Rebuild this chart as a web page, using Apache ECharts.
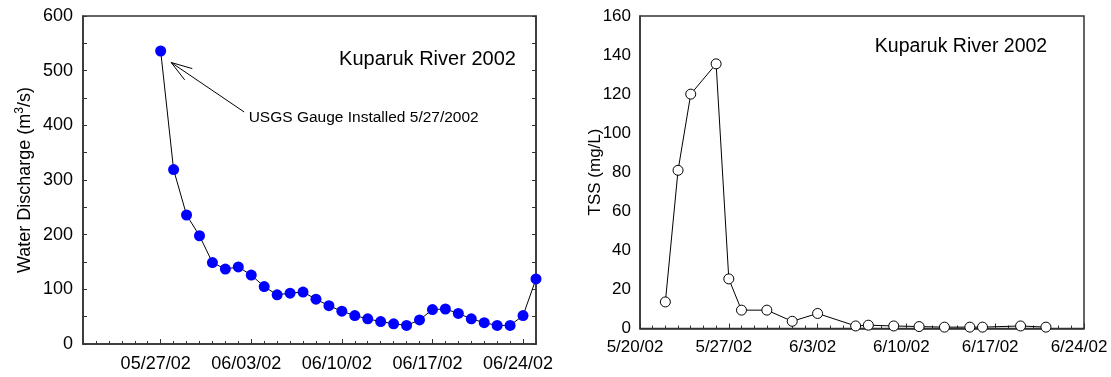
<!DOCTYPE html>
<html>
<head>
<meta charset="utf-8">
<script src="https://cdn.jsdelivr.net/npm/echarts@6/dist/echarts.min.js"></script>
<style>
  html, body { margin: 0; padding: 0; background: #fff; }
  #chart { width: 1111px; height: 377px; }
</style>
</head>
<body>
<div id="chart"></div>
<script>
const FONT = "'Liberation Sans', Arial, Helvetica, sans-serif";

// Daily water discharge at the Kuparuk River gauge (m^3/s)
const dischargeDates = [
  '2002-05-27', '2002-05-28', '2002-05-29', '2002-05-30', '2002-05-31',
  '2002-06-01', '2002-06-02', '2002-06-03', '2002-06-04', '2002-06-05',
  '2002-06-06', '2002-06-07', '2002-06-08', '2002-06-09', '2002-06-10',
  '2002-06-11', '2002-06-12', '2002-06-13', '2002-06-14', '2002-06-15',
  '2002-06-16', '2002-06-17', '2002-06-18', '2002-06-19', '2002-06-20',
  '2002-06-21', '2002-06-22', '2002-06-23', '2002-06-24', '2002-06-25'
];
const dischargeValues = [
  536, 319, 236, 198, 149,
  137, 141, 126, 105, 90,
  93, 95, 82, 70, 60,
  52, 46, 41, 37, 34,
  44, 63, 64, 56, 46,
  39, 34, 34, 52, 119
];

// Total suspended solids samples (mg/L)
const tssDates = [
  '2002-05-22', '2002-05-23', '2002-05-24', '2002-05-26', '2002-05-27',
  '2002-05-28', '2002-05-30', '2002-06-01', '2002-06-03', '2002-06-06',
  '2002-06-07', '2002-06-09', '2002-06-11', '2002-06-13', '2002-06-15',
  '2002-06-16', '2002-06-19', '2002-06-21'
];
const tssValues = [
  13.6, 81, 120, 135.5, 25.4,
  9.4, 9.4, 3.7, 7.7, 1.3,
  1.7, 1.3, 1.0, 0.7, 0.7,
  0.7, 1.3, 0.7
];

// Axis extents and labelled (weekly) ticks
const dischargeAxisRange = ['2002-05-21', '2002-06-25'];
const dischargeTickDates = ['2002-05-27', '2002-06-03', '2002-06-10', '2002-06-17', '2002-06-24'];
const tssAxisRange = ['2002-05-20', '2002-06-24'];
const tssTickDates = ['2002-05-20', '2002-05-27', '2002-06-03', '2002-06-10', '2002-06-17', '2002-06-24'];

const titleText = 'Kuparuk River 2002';
const gaugeNote = 'USGS Gauge Installed 5/27/2002';

const DAY = 86400000;
const ORIGIN = Date.UTC(2002, 4, 20);
function dayNum(s) {
  const [y, m, d] = s.split('-').map(Number);
  return Math.round((Date.UTC(y, m - 1, d) - ORIGIN) / DAY);
}
function dayLabel(n, padded) {
  const dt = new Date(ORIGIN + n * DAY);
  const m = dt.getUTCMonth() + 1, d = dt.getUTCDate();
  const y = String(dt.getUTCFullYear() % 100).padStart(2, '0');
  if (padded) return String(m).padStart(2, '0') + '/' + String(d).padStart(2, '0') + '/' + y;
  return m + '/' + d + '/' + y;
}

const AXIS_COLOR = '#333';
const AXIS_W = 1.5;

function dayAxes(gridIndex, range, ticks, padded, fontSize, margin) {
  const min = dayNum(range[0]), max = dayNum(range[1]);
  const tickVals = ticks.map(dayNum);
  return [
    { // daily ticks
      type: 'value', gridIndex, position: 'bottom', min, max, interval: 1,
      axisLine: { show: true, onZero: false, lineStyle: { color: AXIS_COLOR, width: AXIS_W } },
      axisTick: { show: true, inside: true, length: 3, lineStyle: { color: AXIS_COLOR, width: 1 } },
      axisLabel: { show: false },
      splitLine: { show: false }
    },
    { // weekly ticks with labels
      type: 'value', gridIndex, position: 'bottom', offset: 0, min, max,
      axisLine: { show: false, onZero: false },
      axisTick: { show: true, inside: true, length: 5, customValues: tickVals,
                  lineStyle: { color: AXIS_COLOR, width: 1 } },
      axisLabel: { show: true, customValues: tickVals, margin,
                   fontFamily: FONT, fontSize, color: '#000', padding: [0, 10, 0, 0],
                   formatter: v => dayLabel(v, padded) },
      splitLine: { show: false }
    }
  ];
}

const chart = echarts.init(document.getElementById('chart'), null, { renderer: 'canvas' });

const option = {
  animation: false,
  backgroundColor: '#fff',
  grid: [
    { left: 83, top: 16, width: 453, height: 328, show: true,
      borderColor: AXIS_COLOR, borderWidth: AXIS_W, backgroundColor: 'transparent' },
    { left: 640, top: 16, width: 444, height: 312.5, show: true,
      borderColor: AXIS_COLOR, borderWidth: AXIS_W, backgroundColor: 'transparent' }
  ],
  xAxis: [
    ...dayAxes(0, dischargeAxisRange, dischargeTickDates, true, 18, 11),
    ...dayAxes(1, tssAxisRange, tssTickDates, false, 17, 10)
  ],
  yAxis: [
    {
      type: 'value', gridIndex: 0, min: 0, max: 600, interval: 100, position: 'left',
      axisLine: { show: true, lineStyle: { color: AXIS_COLOR, width: AXIS_W } },
      axisTick: { show: true, inside: true, length: 4, lineStyle: { color: AXIS_COLOR } },
      minorTick: { show: true, splitNumber: 2, length: 4, lineStyle: { color: AXIS_COLOR } },
      axisLabel: { fontFamily: FONT, fontSize: 18, color: '#000', margin: 10 },
      splitLine: { show: false }, minorSplitLine: { show: false }
    },
    {
      type: 'value', gridIndex: 0, min: 0, max: 600, interval: 100, position: 'right',
      axisLine: { show: true, lineStyle: { color: AXIS_COLOR, width: AXIS_W } },
      axisTick: { show: true, inside: true, length: 4, lineStyle: { color: AXIS_COLOR } },
      minorTick: { show: true, splitNumber: 2, length: 4, lineStyle: { color: AXIS_COLOR } },
      axisLabel: { show: false },
      splitLine: { show: false }, minorSplitLine: { show: false }
    },
    {
      type: 'value', gridIndex: 1, min: 0, max: 160, interval: 20, position: 'left',
      axisLine: { show: true, lineStyle: { color: AXIS_COLOR, width: AXIS_W } },
      axisTick: { show: false },
      axisLabel: { fontFamily: FONT, fontSize: 17, color: '#000', margin: 9 },
      splitLine: { show: false }
    }
  ],
  series: [
    {
      name: 'Water Discharge', type: 'line', xAxisIndex: 0, yAxisIndex: 0,
      data: dischargeDates.map((d, i) => [dayNum(d), dischargeValues[i]]),
      symbol: 'circle', symbolSize: 11,
      itemStyle: { color: '#0000ff' },
      lineStyle: { color: '#000', width: 1 },
      z: 3
    },
    {
      name: 'TSS', type: 'line', xAxisIndex: 2, yAxisIndex: 2,
      data: tssDates.map((d, i) => [dayNum(d), tssValues[i]]),
      symbol: 'circle', symbolSize: 10,
      itemStyle: { color: '#fff', borderColor: '#000', borderWidth: 1 },
      lineStyle: { color: '#000', width: 1 },
      z: 3
    }
  ]
};
chart.setOption(option);

// Annotation arrow anchored at the first gauged discharge value
const p = chart.convertToPixel({ seriesIndex: 0 }, [dayNum(dischargeDates[0]), dischargeValues[0]]);
const tip = [p[0] + 10.5, p[1] + 11.5];
const tail = [p[0] + 83.5, p[1] + 61];
const ang = Math.atan2(tail[1] - tip[1], tail[0] - tip[0]);
const headLen = 22, half = 18 * Math.PI / 180;
const h1 = [tip[0] + headLen * Math.cos(ang - half), tip[1] + headLen * Math.sin(ang - half)];
const h2 = [tip[0] + headLen * Math.cos(ang + half), tip[1] + headLen * Math.sin(ang + half)];

function label(text, x, y, size, extra) {
  return Object.assign({
    type: 'text', x, y, z: 10,
    style: { text, font: size + 'px ' + FONT, fill: '#000',
             textAlign: 'center', textVerticalAlign: 'middle' }
  }, extra || {});
}

chart.setOption({
  graphic: [
    label(titleText, 427.5, 59, 20),
    label(titleText, 961, 47, 19.5),
    {
      type: 'text', x: 25, y: 180, rotation: Math.PI / 2, z: 10,
      style: {
        text: '{a|Water Discharge (m}{s|3}{a|/s)}',
        textAlign: 'center', textVerticalAlign: 'middle', fill: '#000',
        rich: {
          a: { fontFamily: FONT, fontSize: 18, lineHeight: 22, fill: '#000' },
          s: { fontFamily: FONT, fontSize: 12, lineHeight: 22, verticalAlign: 'top', fill: '#000' }
        }
      }
    },
    label('TSS (mg/L)', 595, 172, 17, { rotation: Math.PI / 2 }),
    {
      type: 'text', x: tail[0] + 4.5, y: tail[1] + 6, z: 10,
      style: { text: gaugeNote, font: '15.5px ' + FONT, fill: '#000',
               textAlign: 'left', textVerticalAlign: 'middle' }
    },
    {
      type: 'line', z: 10,
      shape: { x1: tail[0], y1: tail[1], x2: tip[0], y2: tip[1] },
      style: { stroke: '#000', lineWidth: 1 }
    },
    {
      type: 'polyline', z: 10,
      shape: { points: [h1, tip, h2] },
      style: { stroke: '#000', lineWidth: 1, fill: null }
    }
  ]
});
</script>
</body>
</html>
